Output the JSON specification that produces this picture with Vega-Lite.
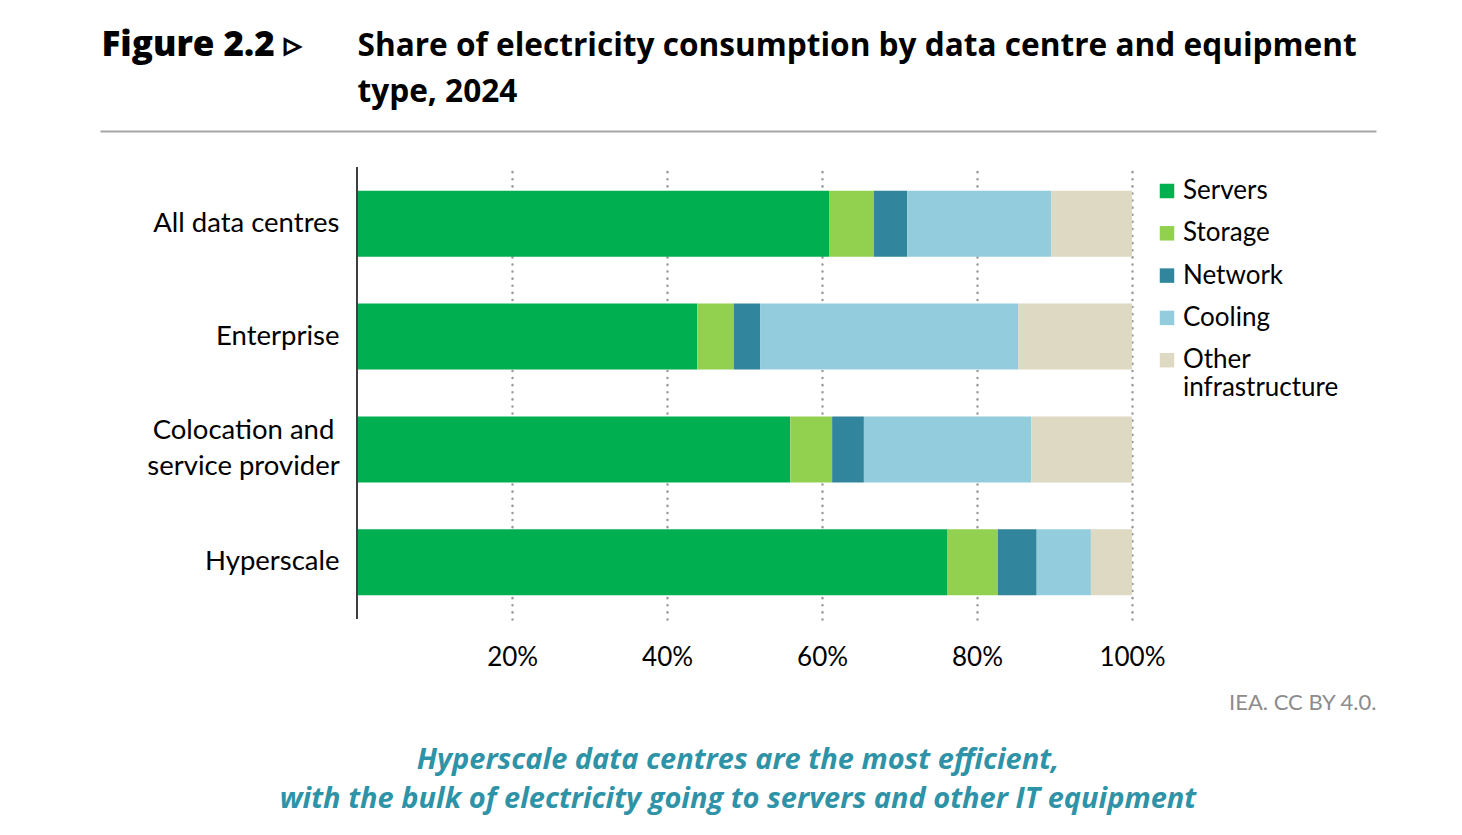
{
  "$schema": "https://vega.github.io/schema/vega-lite/v6.json",
  "autosize": {"type": "none"},
  "width": 1276,
  "height": 452,
  "padding": {"left": 100, "top": 167, "right": 86, "bottom": 216},
  "background": "white",
  "title": {
    "text": ["Hyperscale data centres are the most efficient,", "with the bulk of electricity going to servers and other IT equipment"],
    "orient": "bottom",
    "anchor": "middle",
    "frame": "group",
    "offset": 33,
    "font": "Open Sans",
    "fontSize": 29,
    "fontStyle": "italic",
    "fontWeight": "bold",
    "color": "#2E93A6",
    "lineHeight": 39
  },
  "data": {
    "values": [
      {"type": "All data centres", "component": "Servers", "share": 60.9},
      {"type": "All data centres", "component": "Storage", "share": 5.8},
      {"type": "All data centres", "component": "Network", "share": 4.3},
      {"type": "All data centres", "component": "Cooling", "share": 18.6},
      {"type": "All data centres", "component": "Other infrastructure", "share": 10.4},
      {"type": "Enterprise", "component": "Servers", "share": 43.9},
      {"type": "Enterprise", "component": "Storage", "share": 4.7},
      {"type": "Enterprise", "component": "Network", "share": 3.4},
      {"type": "Enterprise", "component": "Cooling", "share": 33.3},
      {"type": "Enterprise", "component": "Other infrastructure", "share": 14.7},
      {"type": "Colocation and service provider", "component": "Servers", "share": 55.9},
      {"type": "Colocation and service provider", "component": "Storage", "share": 5.4},
      {"type": "Colocation and service provider", "component": "Network", "share": 4.1},
      {"type": "Colocation and service provider", "component": "Cooling", "share": 21.6},
      {"type": "Colocation and service provider", "component": "Other infrastructure", "share": 13.0},
      {"type": "Hyperscale", "component": "Servers", "share": 76.2},
      {"type": "Hyperscale", "component": "Storage", "share": 6.5},
      {"type": "Hyperscale", "component": "Network", "share": 5.0},
      {"type": "Hyperscale", "component": "Cooling", "share": 7.0},
      {"type": "Hyperscale", "component": "Other infrastructure", "share": 5.3}
    ]
  },
  "resolve": {"axis": {"x": "independent"}},
  "layer": [
    {
      "transform": [
        {"calculate": "indexof(['Servers', 'Storage', 'Network', 'Cooling', 'Other infrastructure'], datum.component)", "as": "stackOrder"}
      ],
      "mark": {"type": "bar"},
      "encoding": {
        "y": {
          "field": "type",
          "type": "nominal",
          "sort": ["All data centres", "Enterprise", "Colocation and service provider", "Hyperscale"],
          "scale": {"paddingInner": 0.415, "paddingOuter": 0.21},
          "axis": {
            "orient": "left",
            "offset": -257,
            "domain": false,
            "ticks": false,
            "labelPadding": {"condition": {"test": "datum.value == 'Colocation and service provider'", "value": 114}, "value": 18},
            "labelAlign": {"condition": {"test": "datum.value == 'Colocation and service provider'", "value": "center"}, "value": "right"},
            "labelOffset": {"condition": {"test": "datum.value == 'Colocation and service provider'", "value": -18}, "value": 0},
            "labelFont": "Lato",
            "labelFontSize": 27.5,
            "labelColor": "#000000",
            "labelLimit": 0,
            "labelLineHeight": 36,
            "labelExpr": "datum.value == 'Colocation and service provider' ? ['Colocation and', 'service provider'] : datum.value",
            "title": "Figure 2.2 \u25b9",
            "titleAngle": 0,
            "titleAlign": "left",
            "titleBaseline": "alphabetic",
            "titleX": -256,
            "titleY": -112,
            "titleFont": "Open Sans",
            "titleFontSize": 35,
            "titleFontWeight": 800,
            "titleColor": "#000000"
          }
        },
        "x": {
          "field": "share",
          "type": "quantitative",
          "stack": "zero",
          "scale": {"domain": [-33.2, 131.5], "nice": false, "zero": false},
          "axis": {
            "orient": "bottom",
            "values": [20, 40, 60, 80, 100],
            "labelExpr": "datum.value + '%'",
            "domain": false,
            "ticks": false,
            "grid": true,
            "gridColor": "#9A9A9A",
            "gridWidth": 2.5,
            "gridDash": [0.1, 7],
            "gridCap": "round",
            "labelPadding": 25,
            "labelFont": "Lato",
            "labelFontSize": 26,
            "labelColor": "#000000",
            "title": "IEA. CC BY 4.0.",
            "titleX": 1276,
            "titleY": 90,
            "titleAlign": "right",
            "titleAnchor": null,
            "titleBaseline": "alphabetic",
            "titleFont": "Lato",
            "titleFontSize": 22,
            "titleFontWeight": "normal",
            "titleColor": "#8C8C8C"
          }
        },
        "order": {"field": "stackOrder", "type": "quantitative"},
        "color": {
          "field": "component",
          "type": "nominal",
          "sort": ["Servers", "Storage", "Network", "Cooling", "Other infrastructure"],
          "scale": {
            "domain": ["Servers", "Storage", "Network", "Cooling", "Other infrastructure"],
            "range": ["#00B050", "#92D050", "#31859C", "#93CDDD", "#DDD9C3"]
          },
          "legend": {
            "orient": "none",
            "legendX": 1054,
            "legendY": 11,
            "title": null,
            "padding": 0,
            "symbolType": "square",
            "symbolSize": 210,
            "symbolStrokeWidth": 0,
            "labelFont": "Lato",
            "labelFontSize": 26,
            "labelColor": "#000000",
            "labelOffset": 3,
            "labelLimit": 0,
            "labelLineHeight": 32,
            "rowPadding": 16.3,
            "labelExpr": "datum.label == 'Other infrastructure' ? ['Other', '\u00a0infrastructure'] : datum.label"
          }
        }
      }
    },
    {
      "mark": {"type": "rule", "color": "#404040", "strokeWidth": 1.5},
      "encoding": {
        "x": {
          "datum": 0,
          "type": "quantitative",
          "axis": {
            "orient": "top",
            "offset": 36,
            "labels": false,
            "ticks": false,
            "grid": false,
            "domain": true,
            "domainColor": "#A6A6A6",
            "domainWidth": 2,
            "title": ["Share of electricity consumption by data centre and equipment", "type, 2024"],
            "titleX": 257,
            "titleY": -76,
            "titleAlign": "left",
            "titleAnchor": null,
            "titleAngle": 0,
            "titleBaseline": "alphabetic",
            "titleLineHeight": 46,
            "titleFont": "Open Sans",
            "titleFontSize": 31.6,
            "titleFontWeight": "bold",
            "titleColor": "#000000"
          }
        }
      }
    }
  ],
  "config": {
    "view": {"stroke": null}
  }
}
